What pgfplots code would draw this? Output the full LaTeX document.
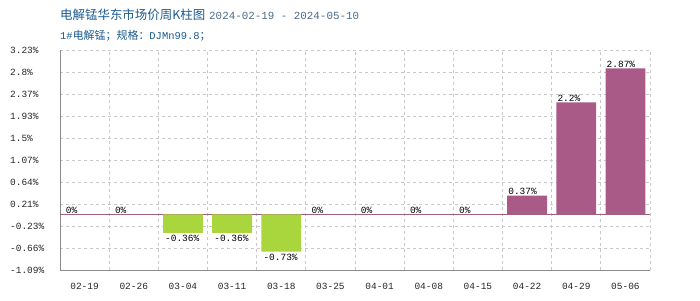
\documentclass[border=0pt]{standalone}
\usepackage{pgfplots}
\pgfplotsset{compat=1.18}
\usepackage{fontspec}
\setmainfont{Liberation Mono}
\newfontfamily\cjk{Noto Sans CJK SC}
\definecolor{posbar}{HTML}{AA5A87}
\definecolor{negbar}{HTML}{A8D63C}
\definecolor{titleblue}{HTML}{1B5A8C}
\definecolor{dateblue}{HTML}{4A6A88}
\definecolor{gridgray}{HTML}{C8C8C8}
\definecolor{axisgray}{HTML}{8C8C8C}
\definecolor{zeroline}{HTML}{A0607A}
\begin{document}
\begin{tikzpicture}[x=1bp,y=1bp]
\path[use as bounding box] (0,0) rectangle (700,300);
\node[anchor=west, inner sep=0pt, text=titleblue, font=\cjk\fontsize{12.5}{14}\selectfont] at (60,285)
  {电解锰华东市场价周K柱图\hspace{4bp}{\rmfamily\fontsize{10.9}{12}\selectfont\color{dateblue}2024-02-19 - 2024-05-10}};
\node[anchor=west, inner sep=0pt, text=titleblue, font=\cjk\fontsize{11}{13}\selectfont] at (60,264)
  {{\rmfamily\fontsize{10.5}{12}\selectfont 1\#}电解锰；规格：{\rmfamily\fontsize{10.5}{12}\selectfont DJMn99.8}；};
\begin{axis}[
  at={(60bp,30bp)}, anchor=south west,
  scale only axis, width=590bp, height=220bp,
  xmin=-0.5, xmax=11.5, ymin=-1.09, ymax=3.23,
  axis x line*=bottom, axis y line*=left,
  axis line style={axisgray, -, line width=0.9bp},
  xtick={0,...,11},
  xticklabels={02-19,02-26,03-04,03-11,03-18,03-25,04-01,04-08,04-15,04-22,04-29,05-06},
  minor xtick={0.5,1.5,...,11.5},
  ytick={-1.09,-0.658,-0.226,0.206,0.638,1.07,1.502,1.934,2.366,2.798,3.23},
  yticklabels={-1.09\%,-0.66\%,-0.23\%,0.21\%,0.64\%,1.07\%,1.5\%,1.93\%,2.37\%,2.8\%,3.23\%},
  ymajorgrids=true, xminorgrids=true,
  major grid style={dashed, gridgray, line width=0.75bp},
  minor grid style={dashed, gridgray, line width=0.75bp},
  major tick length=0pt, minor tick length=0pt,
  tick label style={font=\fontsize{9.5}{11}\selectfont, text=black!85},
  yticklabel style={anchor=west, inner sep=0pt, xshift=-50bp},
  xticklabel style={anchor=north, inner sep=0pt, yshift=-13bp},
  extra y ticks={0}, extra y tick labels={},
  extra y tick style={grid=major, major grid style={solid, zeroline, line width=1bp}},
  clip=false,
]
\addplot[ybar, bar width=0.81, bar shift=0pt, fill=posbar, draw=none,
  point meta=explicit symbolic, nodes near coords,
  every node near coord/.style={anchor=south west, xshift=-19.9bp, inner sep=1pt, font=\fontsize{9.5}{11}\selectfont, text=black}]
  coordinates {(0,0)[0\%] (1,0)[0\%] (5,0)[0\%] (6,0)[0\%] (7,0)[0\%] (8,0)[0\%] (9,0.37)[0.37\%] (10,2.2)[2.2\%] (11,2.87)[2.87\%]};
\addplot[ybar, bar width=0.81, bar shift=0pt, fill=negbar, draw=none,
  point meta=explicit symbolic, nodes near coords,
  every node near coord/.style={anchor=north west, xshift=-19.9bp, inner sep=2pt, font=\fontsize{9.5}{11}\selectfont, text=black}]
  coordinates {(2,-0.36)[-0.36\%] (3,-0.36)[-0.36\%] (4,-0.73)[-0.73\%]};
\end{axis}
\end{tikzpicture}
\end{document}
